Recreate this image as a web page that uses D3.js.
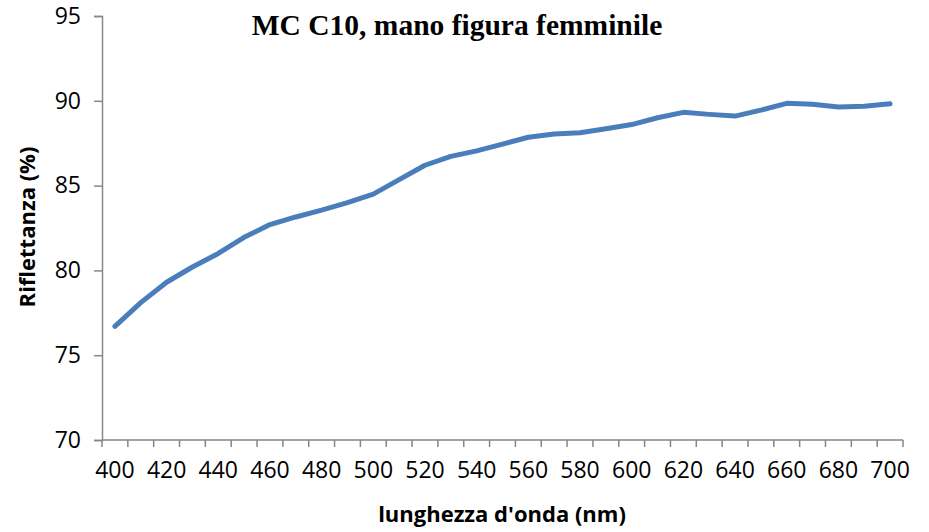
<!DOCTYPE html>
<html>
<head>
<meta charset="utf-8">
<script src="https://cdn.jsdelivr.net/npm/d3@7"></script>
<style>
  html, body { margin: 0; padding: 0; background: #fff; }
  svg { display: block; }
</style>
</head>
<body>
<svg id="chart" width="929" height="532"></svg>
<script>
const wavelengths = [400,410,420,430,440,450,460,470,480,490,500,510,520,530,540,550,560,570,580,590,600,610,620,630,640,650,660,670,680,690,700];
const reflectance = [76.7,78.1,79.3,80.2,81.0,81.95,82.7,83.15,83.55,84.0,84.5,85.35,86.2,86.72,87.05,87.45,87.85,88.04,88.12,88.35,88.6,89.0,89.32,89.2,89.1,89.45,89.85,89.8,89.63,89.68,89.82];
const yTicks = [70,75,80,85,90,95];
const xLabels = [400,420,440,460,480,500,520,540,560,580,600,620,640,660,680,700];
const titleText = "MC C10, mano figura femminile";
const xTitle = "lunghezza d'onda (nm)";
const yTitle = "Riflettanza (%)";

(function () {
const svg = d3.select("#chart");
const mLeft = 102, mRight = 903, mTop = 16, mBottom = 440;
const axisColor = "#868686";
const tickFont = "'Open Sans', sans-serif";

const x = d3.scaleBand().domain(wavelengths).range([mLeft, mRight]).paddingInner(0).paddingOuter(0);
const y = d3.scaleLinear().domain([70, 95]).range([mBottom, mTop]);

// Y axis
const yAxis = d3.axisLeft(y).tickValues(yTicks).tickSize(8).tickPadding(13).tickFormat(d3.format("d"));
const gy = svg.append("g").attr("transform", `translate(${mLeft},0)`).call(yAxis);
gy.select(".domain").attr("stroke", axisColor).attr("stroke-width", 1.5);
gy.selectAll(".tick line").attr("stroke", axisColor).attr("stroke-width", 1.5);
gy.selectAll(".tick text").attr("fill", "#000").style("font-family", tickFont).style("font-size", "23px");

// X axis (labels at band centers, every other)
const xAxis = d3.axisBottom(x).tickSize(0).tickPadding(22)
  .tickFormat(d => xLabels.includes(d) ? d : "");
const gx = svg.append("g").attr("transform", `translate(0,${mBottom})`).call(xAxis);
gx.select(".domain").remove();
gx.selectAll(".tick text").attr("fill", "#000").style("font-family", tickFont).style("font-size", "23px");
gx.append("line").attr("x1", mLeft).attr("x2", mRight).attr("y1", 0).attr("y2", 0)
  .attr("stroke", axisColor).attr("stroke-width", 1.5);
const bounds = wavelengths.map(d => x(d)).concat([x(wavelengths[wavelengths.length-1]) + x.bandwidth()]);
gx.selectAll(".btick").data(bounds).enter().append("line")
  .attr("class", "btick")
  .attr("x1", d => d).attr("x2", d => d).attr("y1", 0).attr("y2", 7)
  .attr("stroke", axisColor).attr("stroke-width", 1.5);

// Line
const line = d3.line()
  .x((d, i) => x(wavelengths[i]) + x.bandwidth() / 2)
  .y(d => y(d));
svg.append("path").datum(reflectance)
  .attr("fill", "none").attr("stroke", "#4a7ebb").attr("stroke-width", 5)
  .attr("stroke-linejoin", "round").attr("stroke-linecap", "round")
  .attr("d", line);

// Titles
svg.append("text").attr("x", 457).attr("y", 35).attr("text-anchor", "middle")
  .style("font-family", "'Liberation Serif', 'Times New Roman', serif").style("font-weight", "bold").style("font-size", "29.5px")
  .text(titleText);
svg.append("text").attr("x", 502).attr("y", 522).attr("text-anchor", "middle")
  .style("font-family", tickFont).style("font-weight", "bold").style("font-size", "22px")
  .text(xTitle);
svg.append("text").attr("transform", "translate(35,227) rotate(-90)").attr("text-anchor", "middle")
  .style("font-family", tickFont).style("font-weight", "bold").style("font-size", "22px")
  .text(yTitle);
})();
</script>
</body>
</html>
